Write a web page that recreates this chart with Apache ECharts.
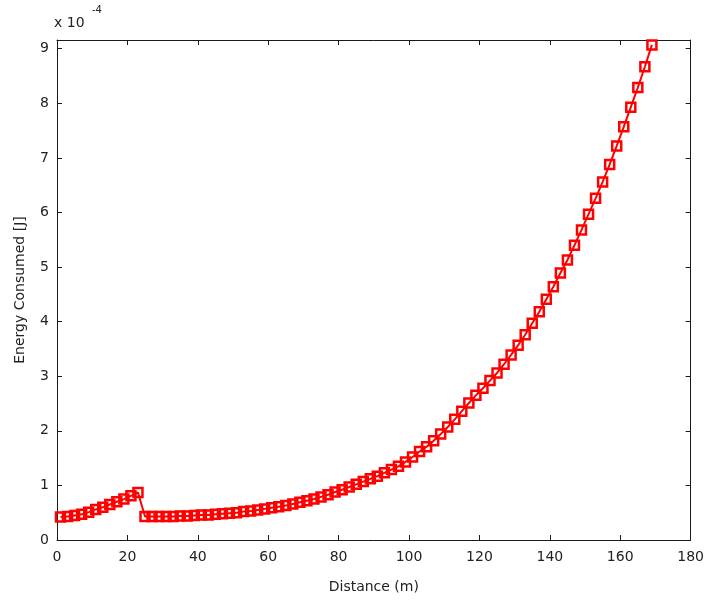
<!DOCTYPE html>
<html>
<head>
<meta charset="utf-8">
<script src="https://cdn.jsdelivr.net/npm/echarts@6/dist/echarts.min.js"></script>
<style>
  html, body { margin: 0; padding: 0; background: #fff; }
  #chart { width: 707px; height: 604px; }
</style>
</head>
<body>
<div id="chart"></div>
<script>
// distance along the route (m)
const distance = [
  1, 3, 5, 7, 9, 11, 13, 15, 17, 19, 21, 23,
  25, 27, 29, 31, 33, 35, 37, 39, 41, 43, 45, 47, 49,
  51, 53, 55, 57, 59, 61, 63, 65, 67, 69, 71, 73, 75, 77, 79,
  81, 83, 85, 87, 89, 91, 93, 95, 97, 99,
  101, 103, 105, 107, 109, 111, 113, 115, 117, 119,
  121, 123, 125, 127, 129, 131, 133, 135, 137, 139,
  141, 143, 145, 147, 149, 151, 153, 155, 157, 159,
  161, 163, 165, 167, 169
];
// energy consumed, in units of 1e-4 J
const energy = [
  0.42, 0.43, 0.45, 0.47, 0.51, 0.56, 0.60, 0.65, 0.70, 0.75, 0.81, 0.87,
  0.43, 0.43, 0.43, 0.43, 0.43, 0.44, 0.44, 0.45, 0.46, 0.46, 0.47, 0.48, 0.49,
  0.50, 0.52, 0.53, 0.55, 0.57, 0.59, 0.61, 0.63, 0.66, 0.69, 0.72, 0.75, 0.79, 0.83, 0.88,
  0.92, 0.97, 1.02, 1.07, 1.12, 1.17, 1.23, 1.29, 1.35, 1.43,
  1.52, 1.62, 1.71, 1.82, 1.94, 2.07, 2.21, 2.36, 2.51, 2.65,
  2.78, 2.92, 3.06, 3.22, 3.39, 3.57, 3.76, 3.97, 4.18, 4.41,
  4.64, 4.89, 5.13, 5.40, 5.68, 5.97, 6.26, 6.56, 6.88, 7.22,
  7.57, 7.93, 8.29, 8.67, 9.07
];
const xTicks = [0, 20, 40, 60, 80, 100, 120, 140, 160, 180];
const yTicks = [0, 1, 2, 3, 4, 5, 6, 7, 8, 9];

let myChart = echarts.init(document.getElementById("chart"));
const axisColor = "#1a1a1a";
const textColor = "#222";
const font = "DejaVu Sans";

const frameAxis = {
  axisLine: { show: true, onZero: false, lineStyle: { color: axisColor, width: 1 } },
  axisTick: { show: true, inside: true, length: 5, lineStyle: { color: axisColor } },
  splitLine: { show: false }
};

let option = {
  animation: false,
  backgroundColor: "#fff",
  grid: { left: 57, right: 16, top: 40, bottom: 64 },
  xAxis: [
    Object.assign({}, frameAxis, {
      type: "value", min: 0, max: 180, interval: 20,
      axisTick: Object.assign({}, frameAxis.axisTick, { customValues: xTicks }),
      name: "Distance (m)", nameLocation: "middle", nameGap: 40,
      nameTextStyle: { color: textColor, fontSize: 14, fontFamily: font },
      axisLabel: { color: textColor, fontSize: 14, fontFamily: font, margin: 10, customValues: xTicks }
    }),
    Object.assign({}, frameAxis, {
      type: "value", min: 0, max: 180, interval: 20, position: "top",
      axisTick: Object.assign({}, frameAxis.axisTick, { customValues: xTicks }),
      axisLabel: { show: false }
    })
  ],
  yAxis: [
    Object.assign({}, frameAxis, {
      type: "value", min: 0, max: 9.16,
      axisTick: Object.assign({}, frameAxis.axisTick, { customValues: yTicks }),
      name: "Energy Consumed [J]", nameLocation: "middle", nameGap: 30,
      nameTextStyle: { color: textColor, fontSize: 14, fontFamily: font },
      axisLabel: { color: textColor, fontSize: 14, fontFamily: font, margin: 8, customValues: yTicks }
    }),
    Object.assign({}, frameAxis, {
      type: "value", min: 0, max: 9.16, position: "right",
      axisTick: Object.assign({}, frameAxis.axisTick, { customValues: yTicks }),
      axisLabel: { show: false }
    })
  ],
  graphic: [
    {
      type: "text", left: 54, top: 16,
      style: { text: "x 10", fill: textColor, font: "14px " + font }
    },
    {
      type: "text", left: 92, top: 5,
      style: { text: "-4", fill: textColor, font: "10px " + font }
    }
  ],
  series: [
    {
      type: "line",
      data: distance.map((d, i) => [d, energy[i]]),
      symbol: "rect",
      symbolSize: 9,
      showAllSymbol: true,
      lineStyle: { color: "#ff0000", width: 2 },
      itemStyle: { color: "rgba(255,255,255,0)", borderColor: "#ff0000", borderWidth: 2.5 }
    }
  ]
};
myChart.setOption(option);
</script>
</body>
</html>
